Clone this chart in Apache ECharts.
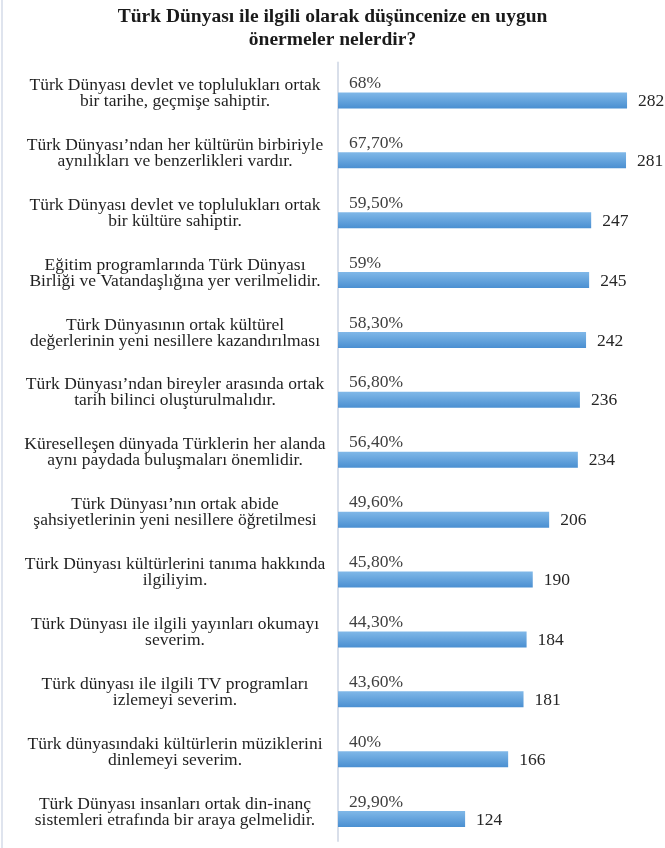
<!DOCTYPE html>
<html>
<head>
<meta charset="utf-8">
<script src="https://cdn.jsdelivr.net/npm/echarts@6/dist/echarts.min.js"></script>
<style>
html,body{margin:0;padding:0;background:#fff;}
#chart{width:665px;height:848px;}
</style>
</head>
<body>
<div id="chart"></div>
<script>
var titleText = 'Türk Dünyası ile ilgili olarak düşüncenize en uygun\nönermeler nelerdir?';
var categories = [
  'Türk Dünyası devlet ve toplulukları ortak\nbir tarihe, geçmişe sahiptir.',
  'Türk Dünyası’ndan her kültürün birbiriyle\naynılıkları ve benzerlikleri vardır.',
  'Türk Dünyası devlet ve toplulukları ortak\nbir kültüre sahiptir.',
  'Eğitim programlarında Türk Dünyası\nBirliği ve Vatandaşlığına yer verilmelidir.',
  'Türk Dünyasının ortak kültürel\ndeğerlerinin yeni nesillere kazandırılması',
  'Türk Dünyası’ndan bireyler arasında ortak\ntarih bilinci oluşturulmalıdır.',
  'Küreselleşen dünyada Türklerin her alanda\naynı paydada buluşmaları önemlidir.',
  'Türk Dünyası’nın ortak abide\nşahsiyetlerinin yeni nesillere öğretilmesi',
  'Türk Dünyası kültürlerini tanıma hakkında\nilgiliyim.',
  'Türk Dünyası ile ilgili yayınları okumayı\nseverim.',
  'Türk dünyası ile ilgili TV programları\nizlemeyi severim.',
  'Türk dünyasındaki kültürlerin müziklerini\ndinlemeyi severim.',
  'Türk Dünyası insanları ortak din-inanç\nsistemleri etrafında bir araya gelmelidir.'
];
var counts = [282, 281, 247, 245, 242, 236, 234, 206, 190, 184, 181, 166, 124];
var percents = [68, 67.7, 59.5, 59, 58.3, 56.8, 56.4, 49.6, 45.8, 44.3, 43.6, 40, 29.9];

function fmtPct(v) {
  if (Math.round(v) === v) return v + '%';
  return v.toFixed(2).replace('.', ',') + '%';
}

var FONT = '"Liberation Serif", "Times New Roman", serif';
var chart = echarts.init(document.getElementById('chart'), null, {renderer: 'canvas'});
chart.setOption({
  animation: false,
  backgroundColor: '#ffffff',
  title: {
    text: titleText,
    left: 'center',
    top: 0,
    textStyle: {fontFamily: FONT, fontWeight: 'bold', fontSize: 19.5, lineHeight: 23, color: '#1a1a1a'}
  },
  graphic: [{
    type: 'line', shape: {x1: 2, y1: 0, x2: 2, y2: 848},
    style: {stroke: '#dfe4ee', lineWidth: 2}
  }],
  grid: {left: 338, right: 19.5, top: 62.5, bottom: 7, containLabel: false},
  xAxis: [
    {type: 'value', min: 0, max: 300, show: false},
    {type: 'value', min: 0, max: 100, show: false}
  ],
  yAxis: {
    type: 'category',
    data: categories,
    inverse: true,
    axisTick: {show: false},
    axisLine: {show: true, lineStyle: {color: '#d9dfea', width: 2}},
    axisLabel: {
      align: 'center',
      margin: 163,
      fontFamily: FONT,
      fontSize: 17.5,
      lineHeight: 18,
      color: '#1f1f1f',
      formatter: function (v) {
        var lines = v.split('\n');
        return lines.map(function (l, i) {
          return (i === 0 ? '{a|' : '{b|') + l + '}';
        }).join('\n');
      },
      rich: {
        a: {fontFamily: FONT, fontSize: 17.5, lineHeight: 18, color: '#1f1f1f', padding: [4, 0, 0, 0]},
        b: {fontFamily: FONT, fontSize: 17.5, lineHeight: 18, color: '#1f1f1f'}
      }
    }
  },
  series: [
    {
      name: 'Yüzde',
      type: 'bar',
      xAxisIndex: 1,
      data: percents,
      barWidth: 16,
      barGap: '0%',
      itemStyle: {color: 'rgba(0,0,0,0)'},
      label: {
        show: true,
        position: 'insideLeft',
        distance: 11,
        offset: [0, -1],
        formatter: function (p) { return fmtPct(p.value); },
        fontFamily: FONT,
        fontSize: 17.5,
        color: '#404040'
      },
      silent: true
    },
    {
      name: 'Sayı',
      type: 'bar',
      xAxisIndex: 0,
      data: counts,
      barWidth: 16,
      barGap: '0%',
      itemStyle: {
        color: new echarts.graphic.LinearGradient(0, 0, 0, 1, [
          {offset: 0, color: '#80b8e8'},
          {offset: 1, color: '#4a8fd1'}
        ])
      },
      label: {
        show: true,
        position: 'right',
        distance: 11,
        offset: [0, 1],
        fontFamily: FONT,
        fontSize: 17.5,
        color: '#262626'
      }
    }
  ]
});
</script>
</body>
</html>
